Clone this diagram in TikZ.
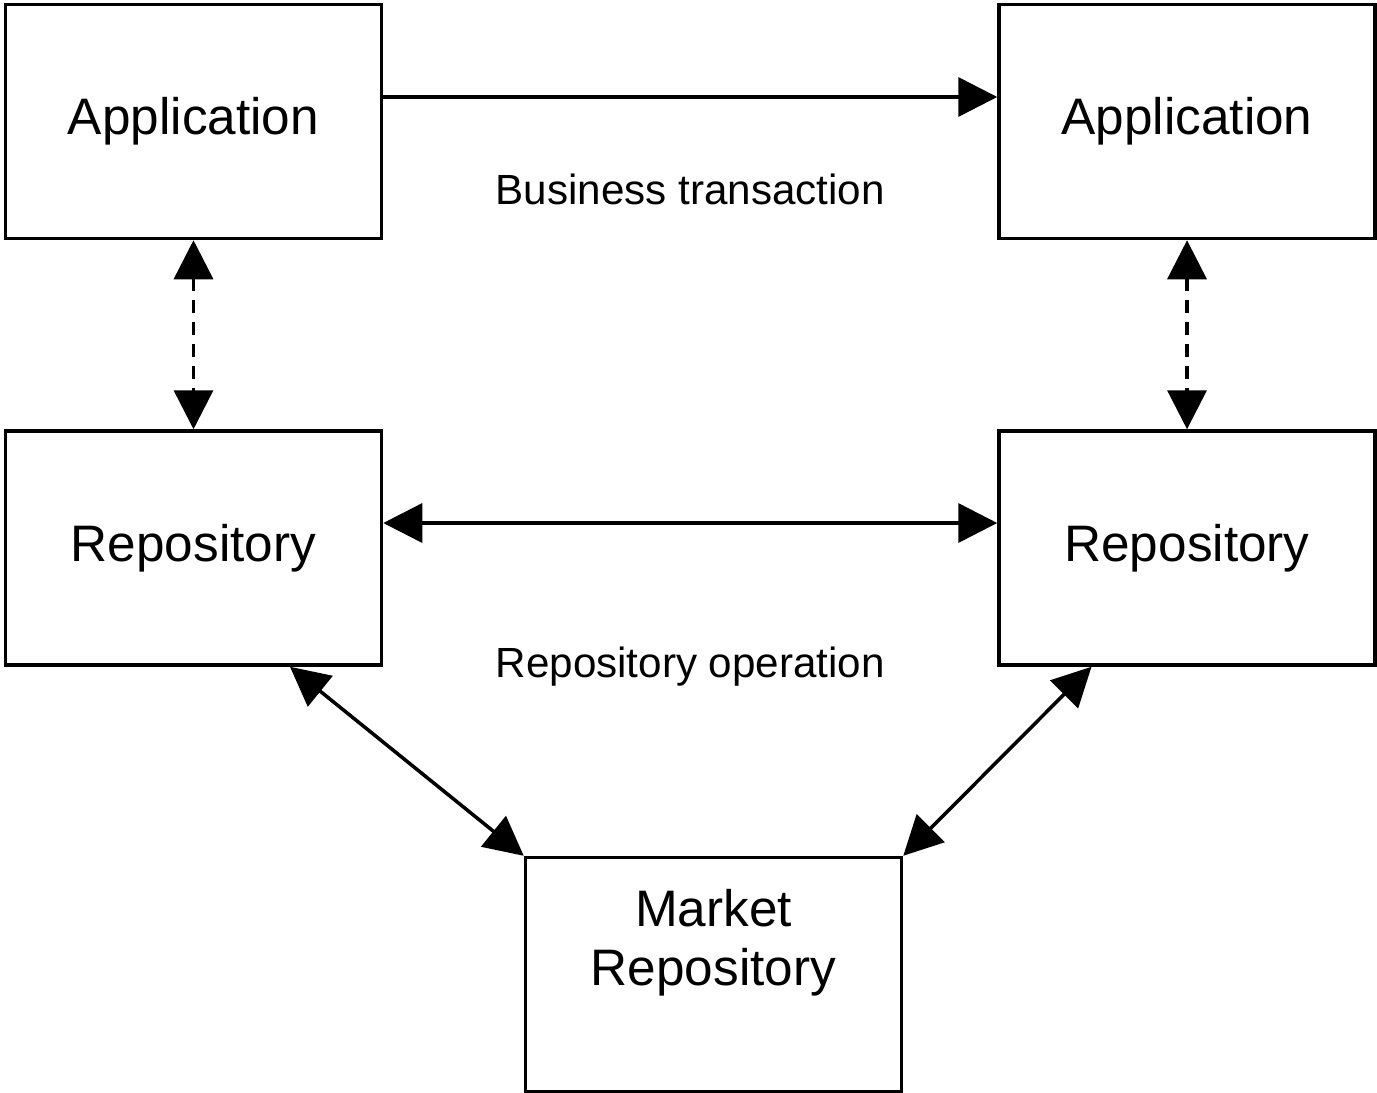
\documentclass[tikz,border=0pt]{standalone}
\usepackage{fontspec}
\setmainfont{Liberation Sans}
\usetikzlibrary{positioning, arrows.meta}

\begin{document}
\begin{tikzpicture}[node distance=3.78cm and 12.28cm,
  box/.style={draw, line width=2pt, minimum width=7.52cm, minimum height=4.68cm, inner sep=0pt,
    font=\fontsize{29.2pt}{33.6pt}\selectfont, align=center},
  boxtext/.style={inner sep=0pt, font=\fontsize{29.2pt}{33.6pt}\selectfont, align=center},
  link/.style={line width=2pt, {Triangle[length=0.78cm,width=0.78cm]}-{Triangle[length=0.78cm,width=0.78cm]}},
  linklabel/.style={font=\fontsize{24pt}{28pt}\selectfont}]
  \useasboundingbox (0,0) rectangle (27.54,-21.86);
  \node[box] at (3.87,-2.43)                     (app left)   {Application};
  \node[box, right=of app left]                  (app right)  {Application};
  \node[box, below=of app left]                  (repo left)  {Repository};
  \node[box, below=of app right]                 (repo right) {Repository};
  \node[box, below=of repo left, xshift=10.4cm]  (market)     {};
  \node[boxtext, below=0.66cm of market.north]   (market text) {Market\\Repository};

  \draw[line width=2pt, -{Triangle[length=0.78cm,width=0.78cm]}] ([yshift=0.49cm]app left.east) --
    node[linklabel, midway, yshift=-1.84cm] {Business transaction} ([yshift=0.49cm]app right.west);
  \draw[link, dash pattern=on 0.26cm off 0.18cm] (app left) -- (repo left);
  \draw[link, dash pattern=on 0.26cm off 0.18cm] (app right) -- (repo right);
  \draw[link] ([yshift=0.5cm]repo left.east) --
    node[linklabel, midway, yshift=-2.88cm] {Repository operation} ([yshift=0.5cm]repo right.west);
  \draw[link] ([xshift=1.93cm]repo left.south) -- (market.north west);
  \draw[link] ([xshift=-1.91cm]repo right.south) -- (market.north east);
\end{tikzpicture}
\end{document}
